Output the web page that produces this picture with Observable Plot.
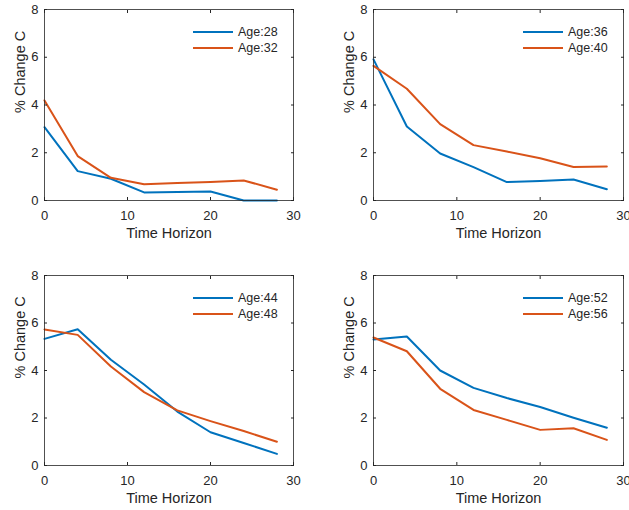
<!DOCTYPE html>
<html><head><meta charset="utf-8">
<script src="https://cdn.jsdelivr.net/npm/d3@7"></script>
<script src="https://cdn.jsdelivr.net/npm/@observablehq/plot@0.6"></script>
<style>
body{margin:0;background:#fff;font-family:"Liberation Sans",Arial,Helvetica,sans-serif;}
#wrap{position:relative;width:629px;height:510px;overflow:hidden;}
.panel{position:absolute;}
.panel svg{overflow:visible;}
.legend{position:absolute;font-size:12.5px;color:#262626;}
.row{position:absolute;left:0;white-space:nowrap;display:flex;align-items:center;height:16px;}
.row svg{display:block;margin-right:5px;}
</style></head><body><div id="wrap"></div>
<script>
// ---- data ----
const time = [0, 4, 8, 12, 16, 20, 24, 28];
const age28 = [3.07, 1.23, 0.91, 0.34, 0.36, 0.38, 0.00, 0.00];
const age32 = [4.19, 1.86, 0.95, 0.68, 0.73, 0.78, 0.84, 0.45];
const age36 = [5.91, 3.10, 1.97, 1.40, 0.77, 0.82, 0.88, 0.47];
const age40 = [5.64, 4.68, 3.20, 2.32, 2.05, 1.77, 1.40, 1.42];
const age44 = [5.33, 5.74, 4.45, 3.41, 2.27, 1.40, 0.95, 0.49];
const age48 = [5.73, 5.50, 4.17, 3.09, 2.32, 1.87, 1.45, 1.00];
const age52 = [5.31, 5.43, 4.00, 3.27, 2.84, 2.46, 2.01, 1.59];
const age56 = [5.39, 4.81, 3.23, 2.34, 1.92, 1.50, 1.57, 1.08];
const xTicks = [0, 10, 20, 30];
const yTicks = [0, 2, 4, 6, 8];
const xLabel = "Time Horizon";
const yLabel = "% Change C";
const colors = ["#0072BD", "#D95319"];

const panels = [
  {names: ["Age:28", "Age:32"], a: age28, b: age32, left: 0,   top: 0,   w: 314, h: 250, ml: 44, mr: 21, mt: 9,  mb: 50},
  {names: ["Age:36", "Age:40"], a: age36, b: age40, left: 314, top: 0,   w: 315, h: 250, ml: 59, mr: 6,  mt: 9,  mb: 50},
  {names: ["Age:44", "Age:48"], a: age44, b: age48, left: 0,   top: 250, w: 314, h: 260, ml: 44, mr: 21, mt: 25, mb: 45},
  {names: ["Age:52", "Age:56"], a: age52, b: age56, left: 314, top: 250, w: 315, h: 260, ml: 59, mr: 6,  mt: 25, mb: 45}
];

const wrap = document.getElementById("wrap");
const font = '"Liberation Sans", Arial, Helvetica, sans-serif';
const ink = "#262626";
const tickFont = 13;

for (const p of panels) {
  const data = [];
  time.forEach((t, i) => { data.push({t, v: p.a[i], s: p.names[0]}); });
  time.forEach((t, i) => { data.push({t, v: p.b[i], s: p.names[1]}); });
  const chart = Plot.plot({
    width: p.w, height: p.h,
    marginLeft: p.ml, marginRight: p.mr, marginTop: p.mt, marginBottom: p.mb,
    style: {fontFamily: font, fontSize: "13px", color: ink, background: "transparent", overflow: "visible"},
    x: {domain: [0, 30]},
    y: {domain: [0, 8]},
    color: {domain: p.names, range: colors},
    marks: [
      Plot.line(data, {x: "t", y: "v", z: "s", stroke: "s", strokeWidth: 2, strokeLinejoin: "round"}),
      Plot.frame({stroke: ink, strokeWidth: 0.8}),
      Plot.axisX(xTicks, {anchor: "bottom", tickSize: -3, tickPadding: 13, label: null, fontSize: tickFont}),
      Plot.axisX(xTicks, {anchor: "top", tickSize: -3, tickFormat: () => "", label: null}),
      Plot.axisY(yTicks, {anchor: "left", tickSize: -3, tickPadding: 9, label: null, fontSize: tickFont}),
      Plot.axisY(yTicks, {anchor: "right", tickSize: -3, tickFormat: () => "", label: null}),
      Plot.text([xLabel], {text: d => d, frameAnchor: "bottom", lineAnchor: "middle", dy: 32.5, fontSize: 14.5, fill: ink}),
      Plot.text([yLabel], {text: d => d, frameAnchor: "left", lineAnchor: "middle", dx: -24, dy: 8, rotate: -90, fontSize: 14.5, fill: ink})
    ]
  });
  const div = document.createElement("div");
  div.className = "panel";
  div.style.left = p.left + "px";
  div.style.top = p.top + "px";
  div.style.width = p.w + "px";
  div.style.height = p.h + "px";
  div.appendChild(chart);
  const leg = document.createElement("div");
  leg.className = "legend";
  leg.style.left = (p.w - p.mr - 100) + "px";
  leg.style.top = p.mt + "px";
  p.names.forEach((n, i) => {
    const row = document.createElement("div");
    row.className = "row";
    row.style.top = (23 + i * 16 - 8) + "px";
    row.innerHTML = `<svg width="40" height="4"><line x1="0" x2="40" y1="2" y2="2" stroke="${colors[i]}" stroke-width="2"/></svg><span>${n}</span>`;
    leg.appendChild(row);
  });
  div.appendChild(leg);
  wrap.appendChild(div);
}
</script>
</body></html>
